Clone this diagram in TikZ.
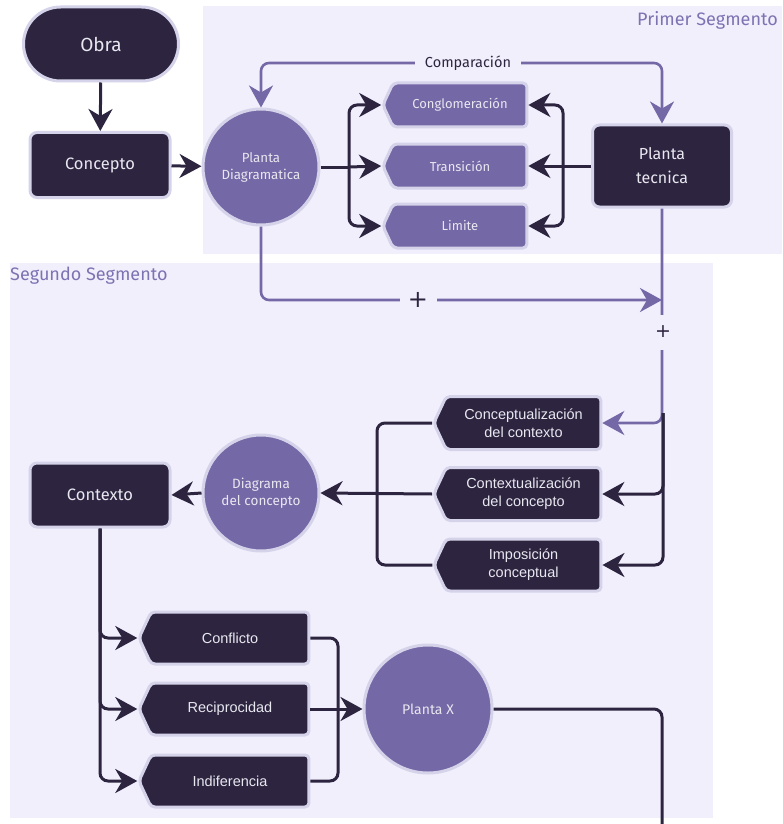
\documentclass[tikz,border=0pt]{standalone}
\usepackage{fontspec}
\setmainfont{Fira Sans}
\newfontfamily\tagfont{Liberation Sans}
\newfontfamily\plusfont{DejaVu Sans}
\usetikzlibrary{shapes.symbols,arrows.meta}

\definecolor{ink}{HTML}{2D2540}
\definecolor{lilac}{HTML}{7568A6}
\definecolor{rim}{HTML}{D5D3EA}
\definecolor{segbg}{HTML}{F1EFFC}
\definecolor{paletxt}{HTML}{E9E7F0}
\definecolor{segtxt}{HTML}{7D72B2}

\tikzset{
  darkbox/.style={rectangle, rounded corners=7pt, fill=ink, draw=rim, line width=3pt,
    text=paletxt, align=center, inner sep=0pt},
  stadium/.style={darkbox, rounded corners=37pt, minimum width=155pt, minimum height=74pt,
    font=\fontsize{19}{22}\selectfont},
  roundnode/.style={circle, fill=lilac, draw=rim, line width=3pt, text=paletxt,
    align=center, inner sep=0pt},
  purpletag/.style={signal, signal to=west, signal pointer angle=130, rounded corners=4pt,
    fill=lilac, draw=rim, line width=3pt, text=paletxt, inner sep=0pt,
    minimum width=144pt, minimum height=44pt, font=\fontsize{13}{15}\selectfont},
  darktag/.style={signal, signal to=west, signal pointer angle=130, rounded corners=4pt,
    fill=ink, draw=rim, line width=3pt, text=paletxt, inner sep=0pt, align=center,
    font=\tagfont\fontsize{14.5}{18}\selectfont},
  tip/.tip={Stealth[length=22pt, width=24pt, inset=7pt]},
  darkline/.style={draw=ink, line width=3pt, rounded corners=8pt},
  lilacline/.style={draw=lilac, line width=2.6pt, rounded corners=8pt},
  seglabel/.style={text=segtxt, font=\fontsize{18}{21}\selectfont, inner sep=0pt},
  gaplabel/.style={fill=segbg, text=ink, inner sep=0pt},
}

\begin{document}
\begin{tikzpicture}[x=1pt, y=-1pt]
  % canvas
  \path[use as bounding box, fill=white] (0,0) rectangle (782,824);

  % segment panels
  \fill[segbg] (203,6) rectangle (782,254);
  \fill[segbg] (10,263) rectangle (713,818);
  \node[seglabel, anchor=east] (seg1) at (778,20) {Primer Segmento};
  \node[seglabel, anchor=west] (seg2) at (10,276) {Segundo Segmento};

  % first segment nodes
  \node[stadium] (obra) at (101,44) {Obra};
  \node[darkbox, minimum width=140pt, minimum height=65pt,
        font=\fontsize{16.5}{20}\selectfont] (concepto) at (100,165) {Concepto};
  \node[roundnode, minimum size=116pt, font=\fontsize{13.3}{17}\selectfont]
        (pd) at (261,167) {Planta\\Diagramatica};
  \node[purpletag] (cong) at (460,105) {Conglomeración};
  \node[purpletag] (trans) at (460,166) {Transición};
  \node[purpletag] (lim) at (460,226) {Limite};
  \node[darkbox, minimum width=139pt, minimum height=82pt,
        font=\fontsize{16}{24}\selectfont] (pt) at (662,166) {Planta\\tecnica};

  % second segment nodes
  \node[darktag, minimum width=167pt, minimum height=53pt] (cc) at (523.5,423)
        {Conceptualización\\del contexto};
  \node[darktag, minimum width=167pt, minimum height=53pt] (ctc) at (523.5,494)
        {Contextualización\\del concepto};
  \node[darktag, minimum width=167pt, minimum height=52pt] (ic) at (523.5,565)
        {Imposición\\conceptual};
  \node[roundnode, minimum size=116pt, font=\fontsize{13.5}{17}\selectfont]
        (dc) at (261,493) {Diagrama\\del concepto};
  \node[darkbox, minimum width=140pt, minimum height=64pt,
        font=\fontsize{16.5}{20}\selectfont] (ctx) at (100,495) {Contexto};
  \node[darktag, minimum width=170pt, minimum height=52pt] (conf) at (230,638) {Conflicto};
  \node[darktag, minimum width=170pt, minimum height=52pt] (rec) at (230,709) {Reciprocidad};
  \node[darktag, minimum width=170pt, minimum height=52pt] (ind) at (230,781) {Indiferencia};
  \node[roundnode, minimum size=128pt, font=\fontsize{14}{17}\selectfont]
        (px) at (428,709) {Planta X};

  % junction points
  \coordinate (pdfork) at (349,167);
  \coordinate (ptfork) at (563,166);
  \coordinate (join) at (662,300);
  \coordinate (split) at (663,413);
  \coordinate (dcfork) at (377,494);
  \coordinate (pxfork) at (338,709);
  \coordinate (exit) at (662,826);

  % first segment connectors
  \draw[darkline, -tip] (obra) -- (concepto);
  \draw[darkline, -tip] (concepto) -- (pd);
  \draw[darkline] (pd.east) -- (pdfork);
  \draw[darkline, -tip] (pdfork) |- (cong.west);
  \draw[darkline, -tip] (pdfork) -- (trans.west);
  \draw[darkline, -tip] (pdfork) |- (lim.west);
  \draw[darkline] (pt.west) -- (ptfork);
  \draw[darkline, -tip] (ptfork) |- (cong.east);
  \draw[darkline, -tip] (ptfork) -- (trans.east);
  \draw[darkline, -tip] (ptfork) |- (lim.east);

  \draw[lilacline, tip-tip] (pd.north) -- (261,63) -- (662,63) -- (pt.north);
  \node[gaplabel, minimum width=106pt, minimum height=10pt,
        font=\fontsize{14.5}{16}\selectfont] (cmp) at (468,63) {Comparación};

  % link to the second segment
  \draw[lilacline, -tip] (pd.south) |- (join);
  \node[gaplabel, minimum width=37pt, minimum height=10pt,
        font=\plusfont\fontsize{24}{24}\selectfont] (plus1) at (418,300) {+};
  \draw[lilacline, -tip] (pt.south) |- (cc.east);
  \node[gaplabel, minimum width=12pt, minimum height=35pt,
        font=\plusfont\fontsize{19}{19}\selectfont] (plus2) at (663,332) {+};

  % second segment connectors
  \draw[darkline, -tip] (split) |- (ctc.east);
  \draw[darkline, -tip] (split) |- (ic.east);
  \draw[darkline] (cc.west) -| (dcfork);
  \draw[darkline] (ic.west) -| (dcfork);
  \draw[darkline, -tip] (ctc.west) -- (dc.east);
  \draw[darkline, -tip] (dc.west) -- (ctx.east);
  \draw[darkline, -tip] (ctx.south) |- (conf.west);
  \draw[darkline, -tip] (ctx.south) |- (rec.west);
  \draw[darkline, -tip] (ctx.south) |- (ind.west);
  \draw[darkline] (conf.east) -| (pxfork);
  \draw[darkline] (ind.east) -| (pxfork);
  \draw[darkline, -tip] (rec.east) -- (px.west);
  \draw[darkline] (px.east) -| (exit);
\end{tikzpicture}
\end{document}
